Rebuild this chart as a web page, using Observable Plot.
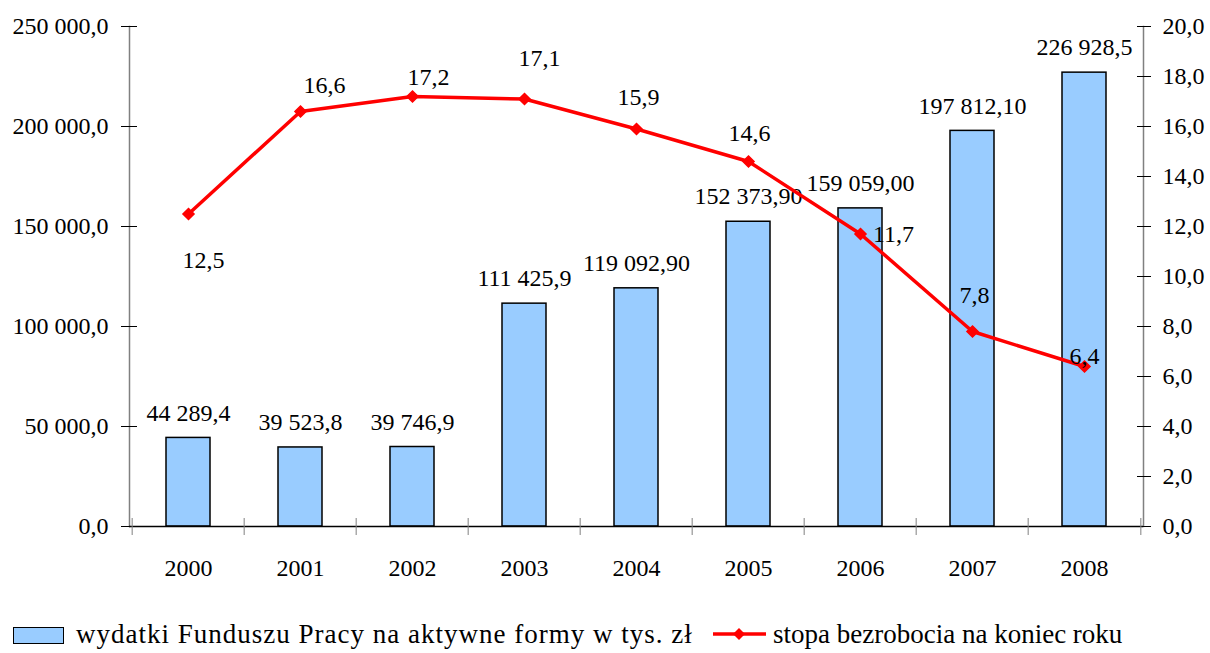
<!DOCTYPE html>
<html><head><meta charset="utf-8">
<script src="https://cdn.jsdelivr.net/npm/d3@7"></script>
<script src="https://cdn.jsdelivr.net/npm/@observablehq/plot@0.6"></script>
<style>
body{margin:0;background:#fff;font-family:'Liberation Serif','DejaVu Serif',serif;}
#wrap{position:relative;width:1210px;height:653px;overflow:hidden;}
#chart{position:absolute;left:0;top:0;}
.lg{position:absolute;font-size:27px;line-height:30px;color:#000;white-space:nowrap;font-family:'Liberation Serif','DejaVu Serif',serif;}
.box{position:absolute;left:13px;top:627px;width:49px;height:15px;background:#99ccff;border:1.5px solid #000;}
.lsym{position:absolute;left:712px;top:624px;}
</style></head><body>
<div id="wrap"><div id="chart"></div>
<div class="box"></div><div class="lg" id="lg1" style="left:76px;top:619px;letter-spacing:1px;"></div>
<svg class="lsym" width="56" height="20"><line x1="1" y1="10" x2="54" y2="10" stroke="#ff0000" stroke-width="3.5"/><path d="M27,4 L33,10 L27,16 L21,10 Z" fill="#ff0000"/></svg>
<div class="lg" id="lg2" style="left:773px;top:619px;"></div>
</div>
<script>
const years = ["2000","2001","2002","2003","2004","2005","2006","2007","2008"];
const spending = [44289.4, 39523.8, 39746.9, 111425.9, 119092.9, 152373.9, 159059.0, 197812.1, 226928.5];
const spendingLabels = ["44 289,4","39 523,8","39 746,9","111 425,9","119 092,90","152 373,90","159 059,00","197 812,10","226 928,5"];
const unemployment = [12.5, 16.6, 17.2, 17.1, 15.9, 14.6, 11.7, 7.8, 6.4];
const unemploymentLabels = ["12,5","16,6","17,2","17,1","15,9","14,6","11,7","7,8","6,4"];
const leftTicks = [0, 50000, 100000, 150000, 200000, 250000];
const rightTicks = [0, 2, 4, 6, 8, 10, 12, 14, 16, 18, 20];
const seriesNames = ["wydatki Funduszu Pracy na aktywne formy w tys. zł", "stopa bezrobocia na koniec roku"];

// label placement offsets (layout only)
const rateLabelDx = [15, 24, 16, 15, 2, 1, 33, 2, 0];
const rateLabelDy = [46, -26, -19, -41, -32, -28, 0, -36, -10];

document.getElementById("lg1").textContent = seriesNames[0];
document.getElementById("lg2").textContent = seriesNames[1];

const ratio = 250000 / 20;
const data = years.map((year, i) => ({
  year, spend: spending[i], spendLabel: spendingLabels[i],
  rate: unemployment[i], rateScaled: unemployment[i] * ratio, rateLabel: unemploymentLabels[i]
}));

const loc = d3.formatLocale({decimal: ",", thousands: " ", grouping: [3], currency: ["", ""]});
const fmtL = loc.format(",.1f");
const fmtR = loc.format(".1f");

const W = 1210, ML = 129, MR = 67;
const step = (W - ML - MR) / years.length;
const FONT = "Liberation Serif, DejaVu Serif, serif";

const rateTexts = data.map((d, i) => Plot.text([d], {
  x: "year", y: "rateScaled", text: "rateLabel",
  dx: rateLabelDx[i], dy: rateLabelDy[i], fontSize: 24, fill: "#000", fontFamily: FONT
}));

const chart = Plot.plot({
  width: W, height: 600,
  marginLeft: ML, marginRight: MR, marginTop: 26, marginBottom: 74,
  style: {fontFamily: FONT, fontSize: "24px", color: "#000", background: "#fff"},
  x: {domain: years, paddingInner: 0.61, paddingOuter: 0.305, label: null},
  y: {domain: [0, 250000], label: null},
  marks: [
    Plot.frame({anchor: "left", stroke: "#808080", strokeWidth: 1.5}),
    Plot.frame({anchor: "right", stroke: "#808080", strokeWidth: 1.5}),
    Plot.barY(data, {x: "year", y: "spend", fill: "#99ccff", stroke: "#000", strokeWidth: 1.5}),
    Plot.ruleY([0], {stroke: "#000", strokeWidth: 1.5}),
    Plot.text(data, {x: "year", y: "spend", text: "spendLabel", dy: -25, fontSize: 24, fill: "#000", fontFamily: FONT}),
    Plot.line(data, {x: "year", y: "rateScaled", stroke: "#ff0000", strokeWidth: 3.5}),
    Plot.dot(data, {x: "year", y: "rateScaled", symbol: "diamond2", fill: "#ff0000", stroke: "#ff0000", r: 5}),
    ...rateTexts,
    Plot.axisY(leftTicks, {anchor: "left", tickSize: 16, dx: 8, tickPadding: 13, tickFormat: fmtL, label: null, fontSize: 24, fontFamily: FONT}),
    Plot.axisY(rightTicks.map(v => v * ratio), {anchor: "right", tickSize: 14, dx: -7, tickPadding: 12, tickFormat: d => fmtR(d / ratio), label: null, fontSize: 24, fontFamily: FONT}),
    Plot.axisX({tickSize: 0, tickPadding: 32, label: null, fontSize: 24, fontFamily: FONT}),
    Plot.axisX({tickSize: 17, dy: -8, dx: -step / 2, fill: "none", label: null, stroke: "#808080"}),
    Plot.axisX([years[years.length - 1]], {tickSize: 17, dy: -8, dx: step / 2, fill: "none", label: null, stroke: "#808080"})
  ]
});
document.getElementById("chart").appendChild(chart);
</script>
</body></html>
